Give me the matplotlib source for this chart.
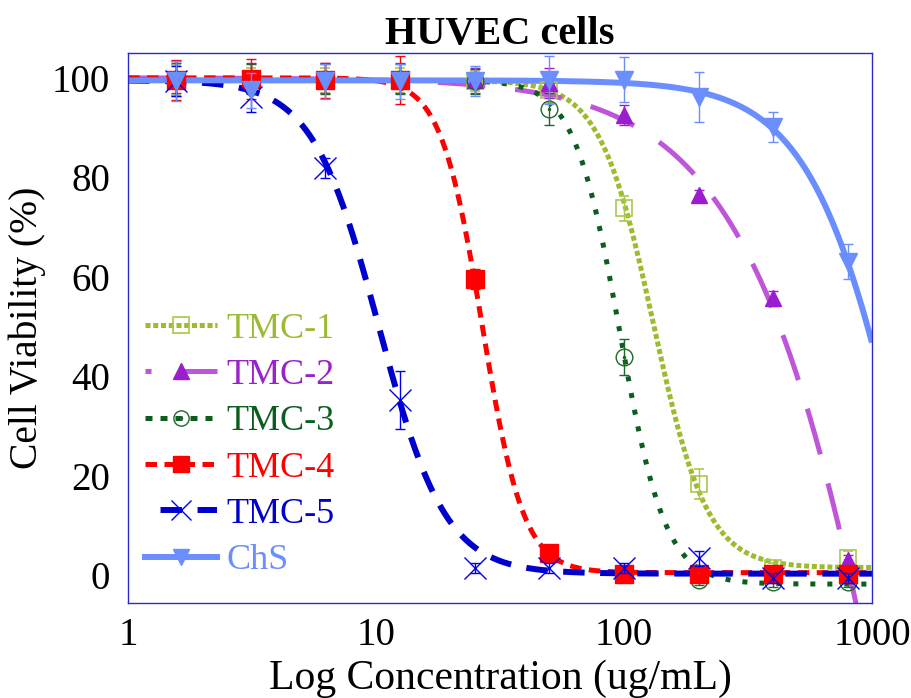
import numpy as np
import matplotlib
matplotlib.use("Agg")
import matplotlib.pyplot as plt
from matplotlib.legend_handler import HandlerTuple

plt.rcParams["font.family"] = ["Liberation Serif", "DejaVu Serif"]

# Concentrations tested (ug/mL)
conc = [1.5625, 3.125, 6.25, 12.5, 25, 50, 100, 200, 400, 800]

# Mean viability (%) per formulation
tmc1 = [99.5, 99.5, 99.5, 99.5, 99.3, 97.5, 73.8, 18.3, 1.5, 3.4]
tmc2 = [100.0, 100.0, 100.0, 100.0, 99.5, 99.0, 92.5, 76.5, 55.7, 3.0]
tmc3 = [99.8, 99.8, 99.8, 99.8, 99.3, 93.8, 43.8, -1.0, -1.4, -1.4]
tmc4 = [99.5, 99.8, 99.5, 99.5, 59.5, 4.4, 0.3, 0.2, 0.2, 0.2]
tmc5 = [99.3, 96.2, 81.9, 35.2, 1.4, 1.4, 1.4, 3.4, -0.6, -0.6]
chs = [99.3, 97.5, 99.3, 99.3, 99.3, 99.6, 99.6, 96.2, 90.1, 63.0]

# Standard deviations
tmc1_sd = [3.0, 2.5, 2.5, 2.5, 2.0, 2.5, 2.5, 3.0, 1.0, 1.5]
tmc2_sd = [3.0, 3.0, 3.0, 3.0, 2.5, 3.0, 2.0, 1.0, 1.5, 1.0]
tmc3_sd = [3.5, 3.0, 3.0, 3.0, 2.5, 3.2, 3.6, 1.0, 1.0, 1.0]
tmc4_sd = [4.0, 4.0, 3.5, 4.8, 2.0, 1.0, 0.8, 0.8, 0.8, 0.8]
tmc5_sd = [3.0, 3.0, 2.0, 5.8, 1.0, 1.0, 1.0, 1.5, 1.0, 1.0]
chs_sd = [4.0, 3.5, 3.5, 3.5, 3.0, 4.8, 4.5, 5.0, 3.0, 3.5]

# Four-parameter logistic fits: (top, bottom, EC50, hill slope)
fit_tmc1 = (99.5, 1.5, 131.5, 4.0)
fit_tmc2 = (100.0, -300.0, 1896.0, 1.3)
fit_tmc3 = (99.5, -1.8, 96.2, 4.7)
fit_tmc4 = (100.0, 0.5, 26.8, 5.2)
fit_tmc5 = (99.5, 0.3, 10.27, 3.23)
fit_chs = (99.5, -80.0, 1504.0, 2.15)

labels = ["TMC-1", "TMC-2", "TMC-3", "TMC-4", "TMC-5", "ChS"]
x_ticks = [1, 10, 100, 1000]
y_ticks = [0, 20, 40, 60, 80, 100]


def logistic(x, top, bottom, ec50, hill):
    return bottom + (top - bottom) / (1.0 + (x / ec50) ** hill)


fig = plt.figure(figsize=(9.12, 6.98), dpi=100)
ax = fig.add_axes([0.1404, 0.1361, 0.8157, 0.7880])

xs = np.logspace(0, 3, 600)

series = [
    dict(y=tmc1, sd=tmc1_sd, fit=fit_tmc1, lc="#9dbb2f", mc="#a8c84a", tc="#9bbb34",
         ls=(0, (1.0, 0.55)), lls=(0, (1.0, 0.55)), lw=3.6, marker="s", ms=12,
         mfc="none", mew=1.2),
    dict(y=tmc2, sd=tmc2_sd, fit=fit_tmc2, lc="#bf55d8", mc="#9a1ecf", tc="#9a22cc",
         ls=(0, (9.5, 6.0)), lls=(8.3, (9.5, 6.0)), lw=3.6, marker="^", ms=12,
         mfc="#9a1ecf", mew=1.0),
    dict(y=tmc3, sd=tmc3_sd, fit=fit_tmc3, lc="#0b5e1e", mc="#1a6a2c", tc="#0b5e1e",
         ls=(0, (1.0, 2.4)), lls=(0, (1.4, 1.6)), lw=3.6, marker="o", ms=12,
         mfc="none", mew=1.0),
    dict(y=tmc4, sd=tmc4_sd, fit=fit_tmc4, lc="#ff0000", mc="#ff0000", tc="#ff0000",
         ls=(0, (2.3, 1.5)), lls=(0, (2.3, 1.5)), lw=3.6, marker="s", ms=13,
         mfc="#ff0000", mew=1.0),
    dict(y=tmc5, sd=tmc5_sd, fit=fit_tmc5, lc="#0000cc", mc="#0000ee", tc="#0000cc",
         ls=(0, (3.6, 2.6)), lls=(3.6, (3.6, 2.6)), lw=4.3, marker="x", ms=16,
         mfc="#0000ee", mew=1.0),
    dict(y=chs, sd=chs_sd, fit=fit_chs, lc="#6b8eff", mc="#6b8eff", tc="#6b8eff",
         ls="-", lls="-", lw=4.3, marker="v", ms=13, mfc="#6b8eff", mew=1.0),
]

# Fitted curves underneath the data points
for s in series:
    ax.plot(xs, logistic(xs, *s["fit"]), color=s["lc"], lw=s["lw"],
            linestyle=s["ls"], dash_capstyle="butt", solid_capstyle="butt", zorder=2)

# Data points with error bars
for i, s in enumerate(series):
    ax.errorbar(conc, s["y"], yerr=s["sd"], fmt=s["marker"], ms=s["ms"],
                mfc=s["mfc"], mec=s["mc"], mew=s["mew"], ecolor=s["mc"],
                elinewidth=1.0, capsize=3.6, capthick=1.0, zorder=3 + i)
    if i == 2:
        ax.plot(conc, s["y"], ".", ms=3, color=s["mc"], zorder=3 + i)

ax.set_xscale("log")
ax.set_xlim(1, 1000)
ax.set_ylim(-5.6, 105)
ax.set_xticks(x_ticks)
ax.set_xticklabels([str(t) for t in x_ticks])
ax.set_yticks(y_ticks)
ax.minorticks_off()
ax.tick_params(axis="both", length=0, labelsize=28)
ax.tick_params(axis="x", pad=10)
ax.tick_params(axis="y", pad=13)
for sp in ax.spines.values():
    sp.set_color("#2a2acc")
    sp.set_linewidth(1.0)

ax.set_title("HUVEC cells", fontsize=29, fontweight="bold", pad=5)
ax.set_xlabel("Log Concentration (ug/mL)", fontsize=30, labelpad=4)
ax.set_ylabel("Cell Viability (%)", fontsize=28.5, labelpad=4)

# Legend handles combine the curve style with the point marker
handles = []
for i, s in enumerate(series):
    h = plt.Line2D([], [], color=s["lc"], lw=s["lw"], linestyle=s["lls"],
                   dash_capstyle="butt", marker=s["marker"], ms=s["ms"] - 1,
                   mfc=s["mfc"], mec=s["mc"], mew=s["mew"])
    if i == 2:
        dot = plt.Line2D([], [], linestyle="none", marker=".", ms=3, color=s["mc"])
        h = (h, dot)
    handles.append(h)

leg = ax.legend(handles, labels, loc="lower left", bbox_to_anchor=(0.0, 0.016),
                frameon=False, fontsize=26, handlelength=2.0, handletextpad=0.25,
                labelspacing=0.36, borderpad=0.2, borderaxespad=0.27,
                handler_map={tuple: HandlerTuple(ndivide=1, pad=0)})
for txt, s in zip(leg.get_texts(), series):
    txt.set_color(s["tc"])

fig.savefig("out.png", dpi=100)
